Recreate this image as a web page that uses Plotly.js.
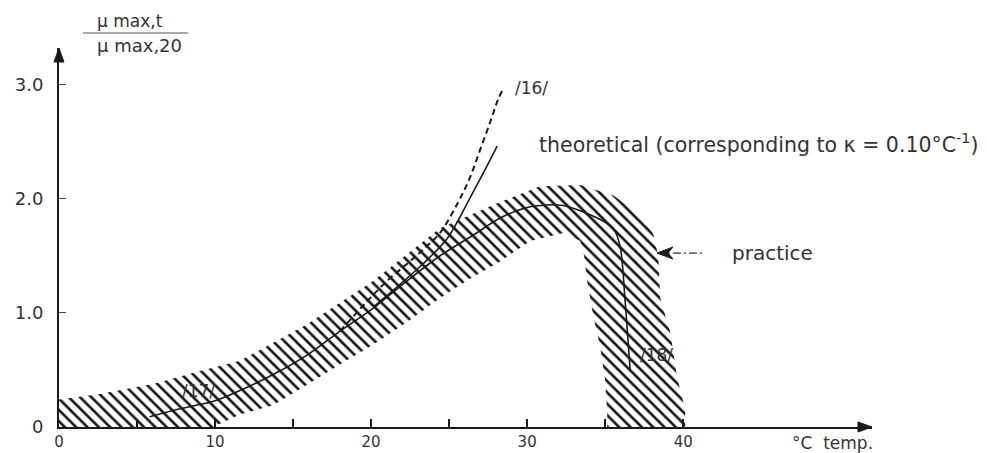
<!DOCTYPE html>
<html>
<head>
<meta charset="utf-8">
<script src="https://cdn.plot.ly/plotly-3.0.1.min.js"></script>
<style>html,body{margin:0;padding:0;background:#fff;}#chart{width:987px;height:453px;}</style>
</head>
<body>
<div id="chart"></div>
<script>
// ---- data (temperature °C, mu_max,t / mu_max,20) ----
const practiceT   = [5.8, 7.76, 10.0, 11.6, 13.72, 15.9, 18.01, 20.13, 22.31, 24.42, 26.54, 28.27, 30.19, 32.31, 34.49, 35.51, 35.96, 36.28, 36.6];
const practiceMu  = [0.09, 0.16, 0.23, 0.32, 0.46, 0.63, 0.84, 1.04, 1.28, 1.50, 1.68, 1.83, 1.93, 1.94, 1.83, 1.74, 1.58, 1.10, 0.50];

const theoT  = [20.13, 21.86, 23.33, 24.87, 25.58, 26.35, 27.44, 28.08];
const theoMu = [1.05, 1.25, 1.43, 1.65, 1.81, 2.01, 2.29, 2.46];

const ref16T  = [18.01, 19.74, 21.03, 22.31, 23.46, 24.42, 25.58, 26.35, 26.99, 27.63, 28.14, 28.46];
const ref16Mu = [0.84, 1.10, 1.28, 1.43, 1.57, 1.70, 1.97, 2.19, 2.43, 2.67, 2.87, 2.96];

const bandUpperT  = [0, 2.63, 6.15, 9.04, 11.6, 15.9, 20.13, 24.42, 28.27, 30.83, 33.4, 35.51, 37.24, 38.08, 38.4, 38.53, 39.17, 39.62, 40.13, 40.13];
const bandUpperMu = [0.24, 0.29, 0.38, 0.49, 0.58, 0.90, 1.28, 1.74, 1.97, 2.11, 2.12, 2.03, 1.86, 1.69, 1.50, 1.13, 0.83, 0.43, 0.15, 0];
const bandLowerT  = [0, 9.87, 11.6, 13.72, 15.9, 18.01, 20.13, 22.31, 24.42, 26.35, 28.27, 30.19, 32.31, 33.4, 33.65, 33.85, 34.23, 34.68, 35.0, 35.13, 35.13];
const bandLowerMu = [0, 0, 0.11, 0.19, 0.37, 0.55, 0.72, 0.92, 1.13, 1.30, 1.45, 1.63, 1.70, 1.63, 1.50, 1.28, 0.98, 0.70, 0.41, 0.11, 0];

const xTickVals = [0, 10, 20, 30, 40];
const xTickText = ['0', '10', '20', '30', '40'];
const xMinorTickVals = [5, 15, 25, 35];
const yTickVals = [0, 1, 2, 3];
const yTickText = ['0', '1.0', '2.0', '3.0'];

// ---- build band polygon ----
const bandX = bandUpperT.concat(bandLowerT.slice().reverse());
const bandY = bandUpperMu.concat(bandLowerMu.slice().reverse());

const FONT = 'DejaVu Sans, Arial, sans-serif';
const INK = '#1a1a1a';

const traces = [
  {
    x: bandX, y: bandY, type: 'scatter', mode: 'lines', fill: 'toself',
    line: {width: 0, color: 'rgba(0,0,0,0)'},
    fillcolor: 'rgba(0,0,0,0)',
    fillpattern: {shape: '\\', size: 8, solidity: 0.33, fgcolor: '#151515', bgcolor: 'rgba(255,255,255,0)'},
    hoverinfo: 'skip', showlegend: false
  },
  {
    x: practiceT, y: practiceMu, type: 'scatter', mode: 'lines',
    line: {color: INK, width: 1.6, shape: 'spline', smoothing: 0.8}, showlegend: false
  },
  {
    x: theoT, y: theoMu, type: 'scatter', mode: 'lines',
    line: {color: INK, width: 1.6, shape: 'spline', smoothing: 1}, showlegend: false
  },
  {
    x: ref16T, y: ref16Mu, type: 'scatter', mode: 'lines',
    line: {color: INK, width: 2, dash: '6px,4px', shape: 'spline', smoothing: 1}, showlegend: false
  }
];

const layout = {
  width: 987, height: 453,
  margin: {l: 59, r: 115, t: 48, b: 26},
  paper_bgcolor: '#fff', plot_bgcolor: '#fff',
  showlegend: false,
  xaxis: {
    range: [0, 52.1], showgrid: false, zeroline: false,
    showline: true, linecolor: INK, linewidth: 2,
    tickmode: 'array', tickvals: xTickVals, ticktext: xTickText,
    ticks: 'inside', ticklen: 8, tickwidth: 1.5, tickcolor: INK,
    minor: {tickmode: 'array', tickvals: xMinorTickVals, ticks: 'inside', ticklen: 8, tickwidth: 1.5, tickcolor: INK, showgrid: false},
    ticklabelstandoff: 0,
    tickfont: {family: FONT, size: 15, color: '#333'}
  },
  yaxis: {
    range: [0, 3.32], showgrid: false, zeroline: false,
    showline: true, linecolor: INK, linewidth: 2,
    tickmode: 'array', tickvals: yTickVals, ticktext: yTickText,
    ticks: 'inside', ticklen: 7, tickwidth: 1, tickcolor: '#444',
    ticklabelstandoff: 10,
    tickfont: {family: FONT, size: 18, color: '#333'}
  },
  shapes: [
    // fraction bar of the y label
    {type: 'line', xref: 'paper', yref: 'paper', x0: 0.0295, x1: 0.1587, y0: 1.0396, y1: 1.0396,
     line: {color: '#555', width: 1.2}},
    // x-axis arrowhead
    {type: 'path', xref: 'paper', yref: 'paper',
     path: 'M 1 0 L 0.9828 0.0132 L 0.9828 -0.0132 Z', fillcolor: INK, line: {color: INK, width: 1}},
    // y-axis arrowhead
    {type: 'path', xref: 'paper', yref: 'paper',
     path: 'M 0 1 L 0.00615 0.9631 L -0.00615 0.9631 Z', fillcolor: INK, line: {color: INK, width: 1}},
    // practice pointer: barbed head + shaft
    {type: 'path', xref: 'paper', yref: 'paper',
     path: 'M 0.7355 0.459 L 0.7552 0.4748 L 0.7490 0.459 L 0.7552 0.4432 Z', fillcolor: INK, line: {color: INK, width: 1}},
    {type: 'line', xref: 'paper', yref: 'paper', x0: 0.7490, x1: 0.7921, y0: 0.459, y1: 0.459,
     line: {color: '#333', width: 1.2, dash: '2px,3px,8px,3px'}}
  ],
  annotations: [
    // y-axis fraction label
    {xref: 'paper', yref: 'paper', x: 0.0873, y: 1.0712, text: 'μ max,t', showarrow: false,
     font: {family: FONT, size: 17, color: '#333'}, xanchor: 'center', yanchor: 'middle'},
    {xref: 'paper', yref: 'paper', x: 0.0996, y: 1.0079, text: 'μ max,20', showarrow: false,
     font: {family: FONT, size: 18, color: '#333'}, xanchor: 'center', yanchor: 'middle'},
    // x-axis label
    {xref: 'paper', yref: 'paper', x: 0.952, y: -0.0422, text: '°C  temp.', showarrow: false,
     font: {family: FONT, size: 17, color: '#333'}, xanchor: 'center', yanchor: 'middle'},
    // curve labels
    {xref: 'paper', yref: 'paper', x: 0.558, y: 0.8945, text: '/16/', showarrow: false,
     font: {family: FONT, size: 17, color: '#333'}, xanchor: 'left', yanchor: 'middle'},
    {xref: 'paper', yref: 'paper', x: 0.172, y: 0.095, text: '/17/', showarrow: false,
     font: {family: FONT, size: 17, color: '#333'}, xanchor: 'center', yanchor: 'middle'},
    {xref: 'paper', yref: 'paper', x: 0.7355, y: 0.19, text: '/18/', showarrow: false,
     font: {family: FONT, size: 17, color: '#333'}, xanchor: 'center', yanchor: 'middle'},
    {xref: 'paper', yref: 'paper', x: 0.588, y: 0.749, text: 'theoretical (corresponding to κ = 0.10°C<sup>-1</sup>)', showarrow: false,
     font: {family: FONT, size: 20.5, color: '#333'}, xanchor: 'left', yanchor: 'middle'},
    {xref: 'paper', yref: 'paper', x: 0.8253, y: 0.459, text: 'practice', showarrow: false,
     font: {family: FONT, size: 20, color: '#333'}, xanchor: 'left', yanchor: 'middle'}
  ]
};

Plotly.newPlot('chart', traces, layout, {displayModeBar: false, staticPlot: true});
</script>
</body>
</html>
